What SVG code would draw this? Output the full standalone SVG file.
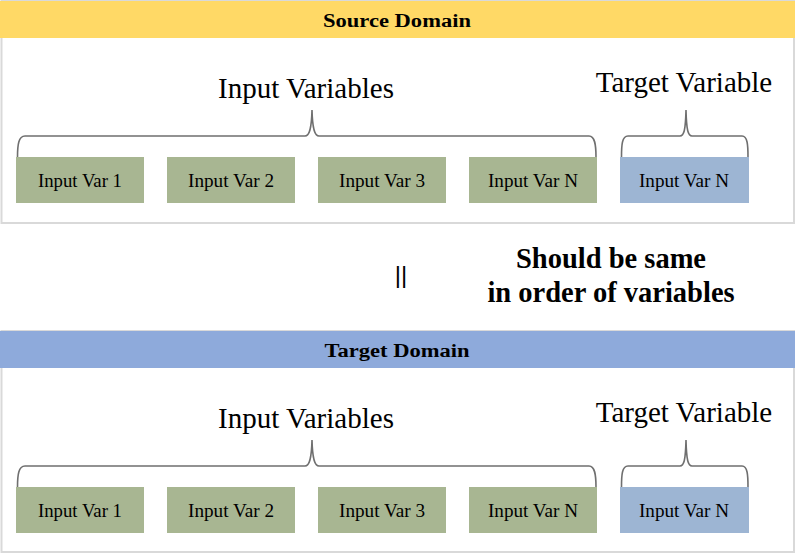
<svg xmlns="http://www.w3.org/2000/svg" width="809" height="555" viewBox="0 0 809 555">
<style>
.panel{fill:#ffffff;stroke:#d9d9d9;stroke-width:2}
.hdr{font-family:"Liberation Serif",serif;font-weight:bold;font-size:18px;text-anchor:middle;fill:#000}
.box{fill:#a8b692}
.tbox{fill:#9db5d3}
.bt{font-family:"Liberation Serif",serif;font-size:18px;text-anchor:middle;fill:#000}
.lbl{font-family:"Liberation Serif",serif;font-size:29px;text-anchor:middle;fill:#000}
.brace{fill:none;stroke:#6f6f6f;stroke-width:1.6}
.big{font-family:"Liberation Serif",serif;font-weight:bold;font-size:28.5px;text-anchor:middle;fill:#000}
</style>
<rect width="809" height="555" fill="#ffffff"/>
<g id="source-domain">
<rect class="panel" x="1.5" y="1" width="792.5" height="222"/>
<rect x="0" y="1" width="795" height="37" fill="#ffd966"/>
<text class="hdr" x="397" y="26.5" textLength="148" lengthAdjust="spacingAndGlyphs">Source Domain</text>
<text class="lbl" x="306" y="98">Input Variables</text>
<text class="lbl" x="684" y="92">Target Variable</text>
</g>
<g id="src-var1"><rect class="box" x="16" y="157" width="128" height="46"/><text class="bt" x="80" y="187" textLength="84" lengthAdjust="spacingAndGlyphs">Input Var 1</text></g>
<g id="src-var2"><rect class="box" x="167" y="157" width="128" height="46"/><text class="bt" x="231" y="187" textLength="86" lengthAdjust="spacingAndGlyphs">Input Var 2</text></g>
<g id="src-var3"><rect class="box" x="318" y="157" width="128" height="46"/><text class="bt" x="382" y="187" textLength="86" lengthAdjust="spacingAndGlyphs">Input Var 3</text></g>
<g id="src-varN"><rect class="box" x="469" y="157" width="128" height="46"/><text class="bt" x="533" y="187" textLength="90" lengthAdjust="spacingAndGlyphs">Input Var N</text></g>
<g id="src-target"><rect class="tbox" x="620" y="157" width="129" height="46"/><text class="bt" x="684" y="187" textLength="90" lengthAdjust="spacingAndGlyphs">Input Var N</text></g>
<g id="middle">
<text x="401" y="283" font-family="Liberation Sans,sans-serif" font-size="24" text-anchor="middle">||</text>
<text class="big" x="611" y="268">Should be same</text>
<text class="big" x="611" y="302">in order of variables</text>
</g>
<g id="target-domain">
<rect class="panel" x="1.5" y="331" width="792.5" height="221"/>
<rect x="0" y="331" width="795" height="37" fill="#8eaadb"/>
<text class="hdr" x="397" y="356.5" textLength="145" lengthAdjust="spacingAndGlyphs">Target Domain</text>
<text class="lbl" x="306" y="428">Input Variables</text>
<text class="lbl" x="684" y="422">Target Variable</text>
</g>
<g id="tgt-var1"><rect class="box" x="16" y="487" width="128" height="46"/><text class="bt" x="80" y="517" textLength="84" lengthAdjust="spacingAndGlyphs">Input Var 1</text></g>
<g id="tgt-var2"><rect class="box" x="167" y="487" width="128" height="46"/><text class="bt" x="231" y="517" textLength="86" lengthAdjust="spacingAndGlyphs">Input Var 2</text></g>
<g id="tgt-var3"><rect class="box" x="318" y="487" width="128" height="46"/><text class="bt" x="382" y="517" textLength="86" lengthAdjust="spacingAndGlyphs">Input Var 3</text></g>
<g id="tgt-varN"><rect class="box" x="469" y="487" width="128" height="46"/><text class="bt" x="533" y="517" textLength="90" lengthAdjust="spacingAndGlyphs">Input Var N</text></g>
<g id="tgt-target"><rect class="tbox" x="620" y="487" width="129" height="46"/><text class="bt" x="684" y="517" textLength="90" lengthAdjust="spacingAndGlyphs">Input Var N</text></g>
<g id="connectors">
<path class="brace" d="M17.5,157 C17.5,145 18.5,136 25,136 L305,136 C309,136 311.5,130 312,110 C312.5,130 315,136 319,136 L589,136 C595,136 596,145 596,157"/>
<path class="brace" d="M621.5,157 C621.5,145 622,136 628,136 L680,136 C684,136 685.5,130 686,110 C686.5,130 688,136 692,136 L742,136 C747.5,136 748,145 748,157"/>
<path class="brace" d="M17.5,487 C17.5,475 18.5,466 25,466 L305,466 C309,466 311.5,460 312,440 C312.5,460 315,466 319,466 L589,466 C595,466 596,475 596,487"/>
<path class="brace" d="M621.5,487 C621.5,475 622,466 628,466 L680,466 C684,466 685.5,460 686,440 C686.5,460 688,466 692,466 L742,466 C747.5,466 748,475 748,487"/>
</g>
</svg>
